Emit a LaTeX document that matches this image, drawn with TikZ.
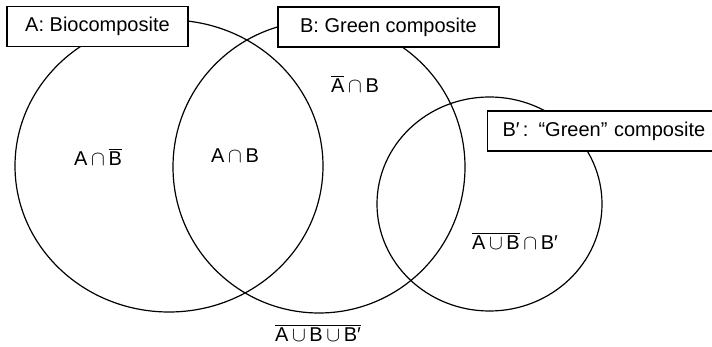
\documentclass[tikz,border=0pt]{standalone}
\usepackage{fontspec}
\setmainfont{Liberation Sans}
\newcommand\ovl[1]{\vbox{\hrule height 1.1pt\kern 2pt\hbox{#1}}}
\newcommand\mycap{\hspace{0.18em}$\cap$\hspace{0.18em}}
\newcommand\mycup{\hspace{0.18em}$\cup$\hspace{0.18em}}
\begin{document}
\begin{tikzpicture}[x=1pt,y=-1pt,
  every node/.style={font=\fontsize{20}{23}\selectfont},
  ring/.style={line width=1.2pt},
  labelbox/.style={draw, line width=1.1pt, fill=white, inner sep=0pt, minimum height=40pt},
  region/.style={inner sep=1pt}]
\useasboundingbox (0,0) rectangle (712,347);
\coordinate (ca) at (169,166);
\coordinate (cb) at (319,167);
\coordinate (cbp) at (489.5,204);
\draw[ring] (ca) ellipse [x radius=154pt, y radius=146pt];
\draw[ring] (cb) ellipse [x radius=146pt, y radius=146pt];
\draw[ring] (cbp) ellipse [x radius=112.5pt, y radius=107pt];
\node[labelbox, minimum width=181pt] (la) at (97.5,26.5) {A: Biocomposite};
\node[labelbox, minimum width=221pt] (lb) at (388.5,27) {B: Green composite};
\node[labelbox, anchor=west, text width=215pt, align=left, inner xsep=15pt] (lbp) at (487,131) {B′\,: “Green” composite};
\node[region] (anb) at (98,157) {A\mycap\ovl{B}};
\node[region] (ab) at (235,156) {A\mycap B};
\node[region] (nab) at (355,84) {\ovl{A}\mycap B};
\node[region] (nabbp) at (515,241) {\ovl{A\mycup B}\mycap B′};
\node[region] (none) at (318,333) {\ovl{A\mycup B\mycup B′}};
\end{tikzpicture}
\end{document}
